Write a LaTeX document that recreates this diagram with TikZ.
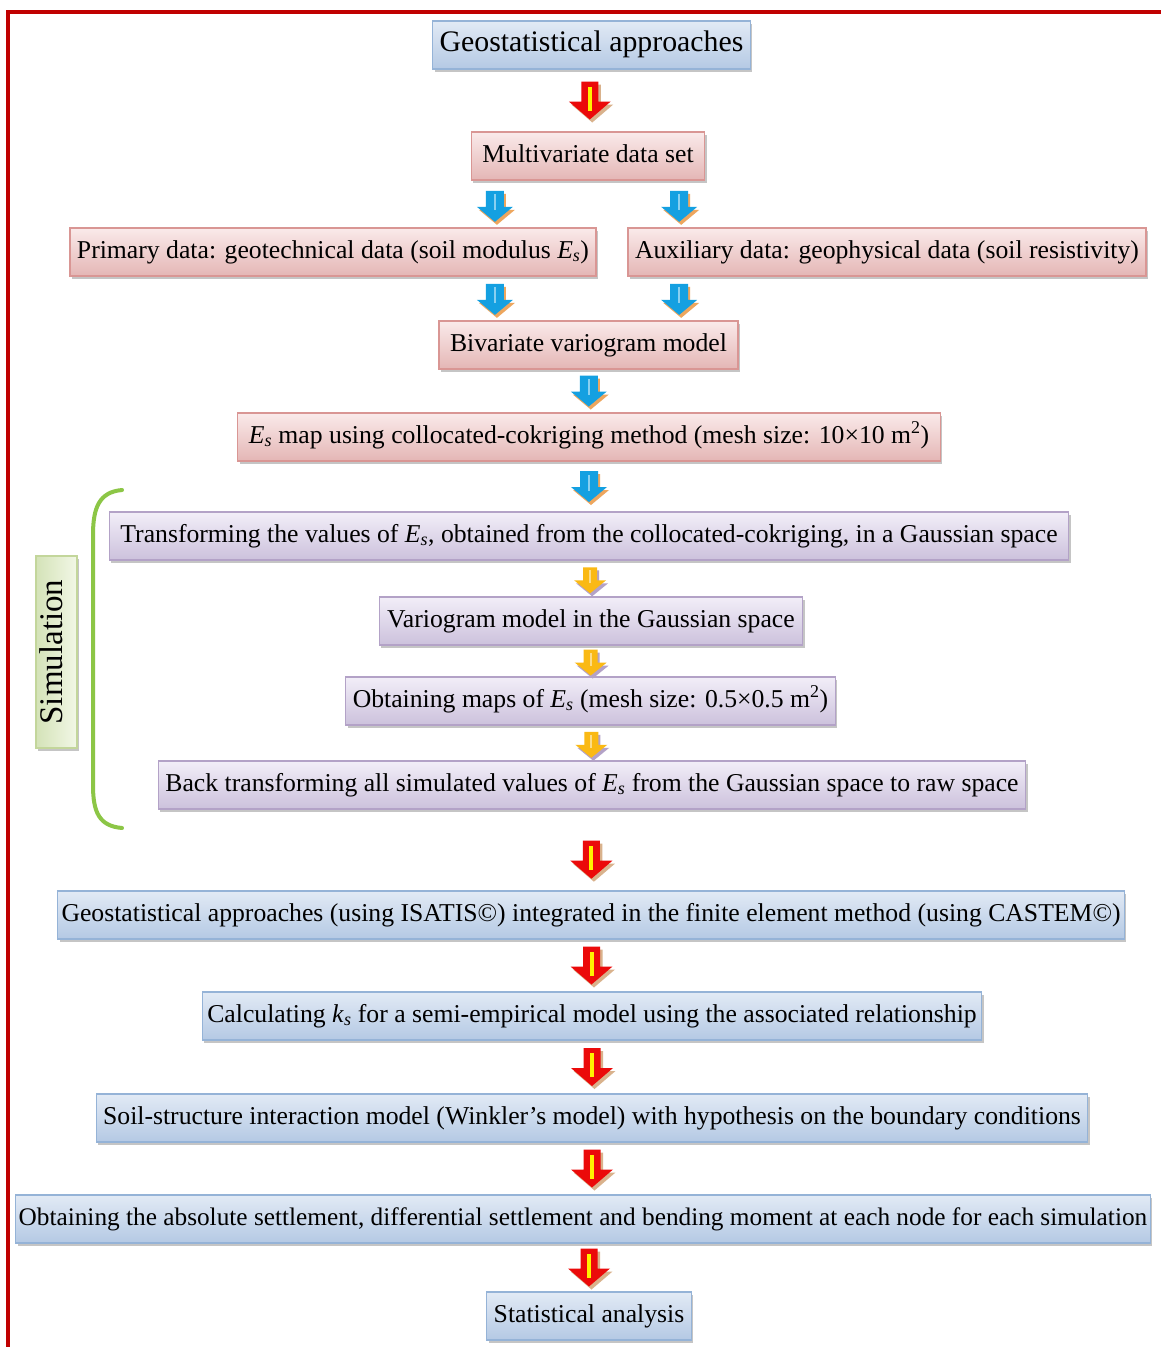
\documentclass[tikz,border=0pt]{standalone}
\usepackage{fontspec}
\setmainfont{Liberation Serif}
\usetikzlibrary{calc,shadows}

\definecolor{framered}{RGB}{192,0,0}
\definecolor{bbord}{RGB}{149,179,215}
\definecolor{btop}{RGB}{226,234,245}
\definecolor{bbot}{RGB}{180,201,228}
\definecolor{pbord}{RGB}{217,150,148}
\definecolor{ptop}{RGB}{250,234,234}
\definecolor{pbot}{RGB}{228,182,181}
\definecolor{vbord}{RGB}{179,162,199}
\definecolor{vtop}{RGB}{242,238,248}
\definecolor{vbot}{RGB}{204,193,220}
\definecolor{gbord}{RGB}{195,214,155}
\definecolor{gtop}{RGB}{242,247,230}
\definecolor{gbot}{RGB}{212,227,184}
\definecolor{bracegreen}{RGB}{140,198,70}
\definecolor{arrred}{RGB}{235,10,10}
\definecolor{arrblue}{RGB}{20,160,225}
\definecolor{arrorange}{RGB}{250,185,20}

\newcommand{\Es}{\textit{E}\textsubscript{\textit{s}}}
\newcommand{\ks}{\textit{k}\textsubscript{\textit{s}}}
% block arrow: half shaft, half head, half length, head start
\newcommand{\blockpoly}[4]{(-#1,-#3) -- (#1,-#3) -- (#1,#4) -- (#2,#4) -- (0,#3) -- (-#2,#4) -- (-#1,#4) -- cycle}

\tikzset{
  box/.style={draw, line width=1.2pt, inner xsep=11pt, minimum height=48pt,
    text height=18pt, text depth=6pt, font=\fontsize{25.7}{30}\selectfont,
    drop shadow={shadow xshift=2pt, shadow yshift=-3pt, fill=black!45}},
  bluebox/.style={box, draw=bbord, top color=btop, bottom color=bbot},
  pinkbox/.style={box, draw=pbord, top color=ptop, bottom color=pbot},
  violetbox/.style={box, draw=vbord, top color=vtop, bottom color=vbot},
  greenbox/.style={box, draw=gbord, left color=gbot, right color=gtop},
  redarr/.pic={
    \fill[shift={(2.5,3)}, brown!60] \blockpoly{8.5}{21}{19}{1};
    \fill[arrred] \blockpoly{8.5}{21}{19}{1};
    \fill[yellow] (-2,-14) rectangle (2,10);
  },
  bluearr/.pic={
    \fill[shift={(2,3)}, orange!60!brown!70] \blockpoly{9}{18}{15.5}{0.5};
    \fill[arrblue] \blockpoly{9}{18}{15.5}{0.5};
    \fill[arrblue!50!white] (-1,-12) rectangle (1,4);
  },
  orangearr/.pic={
    \fill[shift={(2,3)}, vbord] \blockpoly{7}{16}{13}{0};
    \fill[arrorange] \blockpoly{7}{16}{13}{0};
    \fill[arrorange!50!white] (-1,-10) rectangle (1,3);
  },
}

\begin{document}
\begin{tikzpicture}[x=1pt,y=-1pt]
\useasboundingbox (0,0) rectangle (1161,1347);
\fill[white] (0,0) rectangle (1161,1347);
% frame
\draw[framered, line width=4pt] (8,1347) -- (8,12) -- (1161,12);

% boxes
\node[bluebox, font=\fontsize{29.8}{34}\selectfont, inner xsep=7pt] (geo) at (591.5,45) {Geostatistical approaches};
\node[pinkbox] (multi) at (588,156) {Multivariate data set};
\node[pinkbox, inner xsep=7pt] (prim) at (333,252) {Primary data: geotechnical data (soil modulus \Es)};
\node[pinkbox, inner xsep=7pt] (aux) at (887,252) {Auxiliary data: geophysical data (soil resistivity)};
\node[pinkbox] (biv) at (588.5,345) {Bivariate variogram model};
\node[pinkbox] (esmap) at (589,437) {\Es\ map using collocated-cokriging method (mesh size: 10×10 m\textsuperscript{2})};
\node[violetbox] (trans) at (589,536) {Transforming the values of \Es, obtained from the collocated-cokriging, in a Gaussian space};
\node[violetbox, inner xsep=8pt] (vario) at (591,621) {Variogram model in the Gaussian space};
\node[violetbox, inner xsep=7pt] (obtmap) at (590.5,701) {Obtaining maps of \Es\ (mesh size: 0.5×0.5 m\textsuperscript{2})};
\node[violetbox, inner xsep=7pt] (back) at (592,785) {Back transforming all simulated values of \Es\ from the Gaussian space to raw space};
\node[bluebox, inner xsep=4pt] (integ) at (591,915) {Geostatistical approaches (using ISATIS©) integrated in the finite element method (using CASTEM©)};
\node[bluebox, inner xsep=5pt] (calc) at (592,1016) {Calculating \ks\ for a semi-empirical model using the associated relationship};
\node[bluebox, inner xsep=7pt] (soil) at (592,1118) {Soil-structure interaction model (Winkler’s model) with hypothesis on the boundary conditions};
\node[bluebox, anchor=west, inner xsep=3pt, font=\fontsize{25.3}{30}\selectfont] (obtabs) at (15,1219) {Obtaining the absolute settlement, differential settlement and bending moment at each node for each simulation};
\node[bluebox, inner xsep=7pt] (stat) at (589,1316) {Statistical analysis};

% simulation group
\node[greenbox, rotate=90, font=\fontsize{33}{36}\selectfont, minimum width=192pt, minimum height=41pt, inner xsep=2pt] (sim) at (56.5,652) {Simulation};
\draw[bracegreen, line width=4pt, line cap=round] (122,490) .. controls (99,492) and (93,508) .. (93,535) -- (93,785) .. controls (93,812) and (99,826) .. (122,828);

% arrows
\path ($(multi.south west)!0.103!(multi.south east)$) coordinate (mL);
\path ($(multi.south west)!0.889!(multi.south east)$) coordinate (mR);
\path ($(geo.south)!0.5!(multi.north)$) pic {redarr};
\path ($(mL)!0.55!(mL |- prim.north)$) pic {bluearr};
\path ($(mR)!0.55!(mR |- aux.north)$) pic {bluearr};
\path ($(mL |- prim.south)!0.52!(mL |- biv.north)$) pic {bluearr};
\path ($(mR |- aux.south)!0.52!(mR |- biv.north)$) pic {bluearr};
\path ($(biv.south)!0.5!(esmap.north)$) pic {bluearr};
\path ($(esmap.south)!0.5!(trans.north)$) pic {bluearr};
\path ($(trans.south)!0.55!(vario.north)$) pic {orangearr};
\path ($(vario.south)!0.55!(obtmap.north)$) pic {orangearr};
\path ($(obtmap.south)!0.55!(back.north)$) pic {orangearr};
\path ($(back.south)!0.62!(integ.north)$) pic {redarr};
\path ($(integ.south)!0.5!(calc.north)$) pic {redarr};
\path ($(calc.south)!0.5!(soil.north)$) pic {redarr};
\path ($(soil.south)!0.5!(obtabs.north -| soil.south)$) pic {redarr};
\path ($(obtabs.south -| stat.north)!0.5!(stat.north)$) pic {redarr};
\end{tikzpicture}
\end{document}
